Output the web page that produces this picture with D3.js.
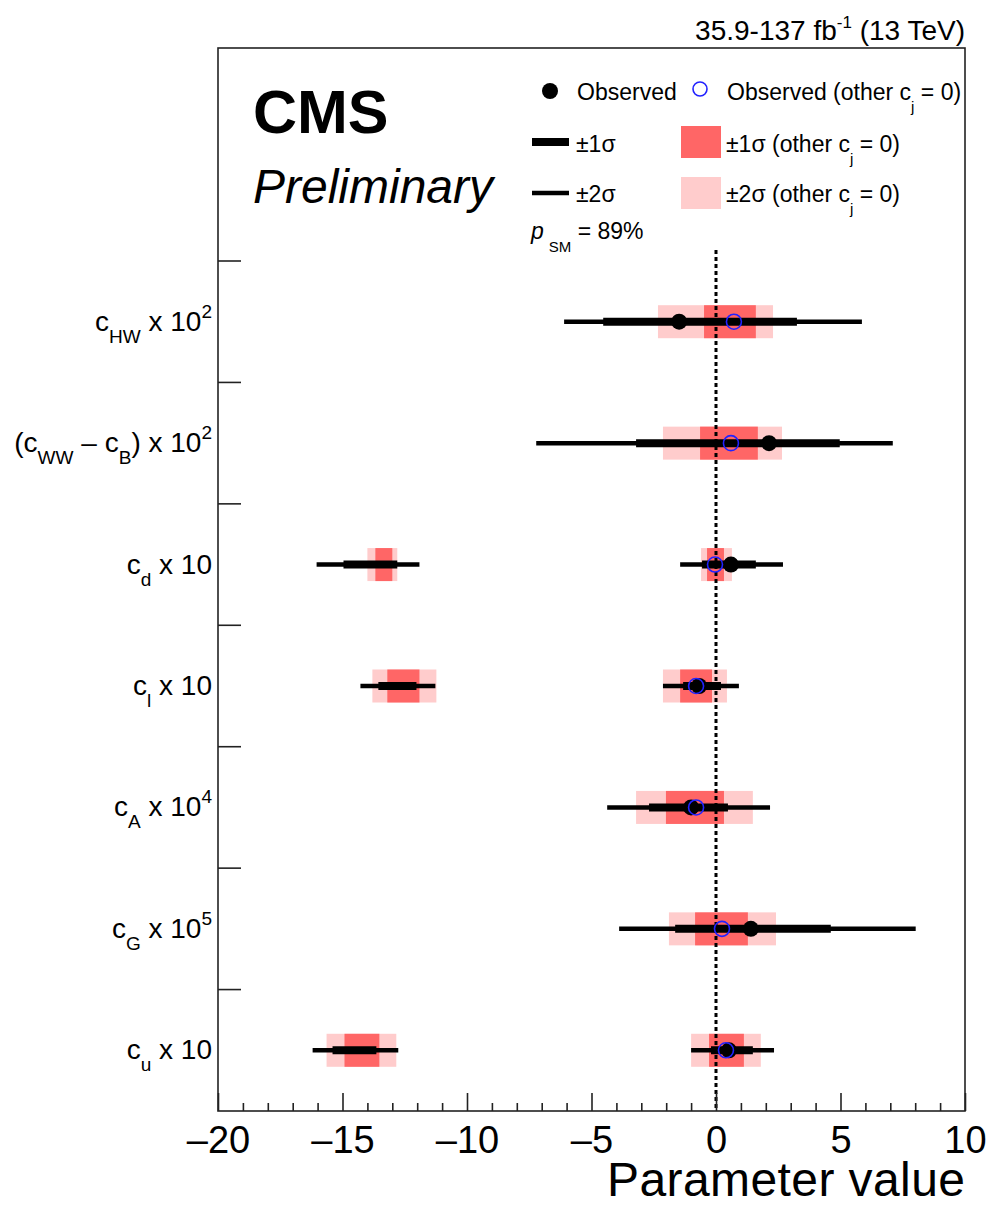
<!DOCTYPE html>
<html><head><meta charset="utf-8">
<script src="https://cdn.jsdelivr.net/npm/d3@7"></script>
<style>body{margin:0;background:#fff} svg{display:block} text{font-family:"Liberation Sans",Arial,Helvetica,sans-serif;fill:#000}</style>
</head><body><svg id="c" width="988" height="1205"></svg>
<script>
// ---------- data ----------
const categories = ["cHW", "cWW_cB", "cd", "cl", "cA", "cG", "cu"];
// axis labels: [text, kind] kind: "" normal, "sub", "sup"
const yLabels = [
  [["c",""],["HW","sub"],[" x 10",""],["2","sup"]],
  [["(c",""],["WW","sub"],[" \u2013 c",""],["B","sub"],[") x 10",""],["2","sup"]],
  [["c",""],["d","sub"],[" x 10",""]],
  [["c",""],["l","sub"],[" x 10",""]],
  [["c",""],["A","sub"],[" x 10",""],["4","sup"]],
  [["c",""],["G","sub"],[" x 10",""],["5","sup"]],
  [["c",""],["u","sub"],[" x 10",""]]
];
const observed      = [-1.48, 2.13, 0.60, -0.68, -1.00, 1.40, 0.52];
const observedOther = [ 0.72, 0.60, -0.04, -0.80, -0.80, 0.24, 0.40];
const sigma1 = [
  [[-4.53, 3.25]],
  [[-3.21, 4.97]],
  [[-14.96, -12.80], [-0.56, 1.60]],
  [[-13.56, -12.03], [-1.32, 0.20]],
  [[-2.69, 0.48]],
  [[-1.64, 4.61]],
  [[-15.40, -13.64], [-0.20, 1.48]]
];
const sigma2 = [
  [[-6.10, 5.86]],
  [[-7.22, 7.10]],
  [[-16.04, -11.91], [-1.44, 2.69]],
  [[-14.28, -11.27], [-2.13, 0.92]],
  [[-4.37, 2.17]],
  [[-3.89, 8.02]],
  [[-16.20, -12.76], [-1.00, 2.33]]
];
const sigma1Other = [
  [[-0.48, 1.60]],
  [[-0.64, 1.68]],
  [[-13.68, -13.00], [-0.36, 0.32]],
  [[-13.20, -11.91], [-1.44, -0.16]],
  [[-2.01, 0.32]],
  [[-0.84, 1.28]],
  [[-14.92, -13.52], [-0.28, 1.12]]
];
const sigma2Other = [
  [[-2.33, 2.29]],
  [[-2.13, 2.65]],
  [[-14.00, -12.80], [-0.60, 0.64]],
  [[-13.80, -11.23], [-2.13, 0.44]],
  [[-3.21, 1.48]],
  [[-1.89, 2.41]],
  [[-15.64, -12.84], [-1.00, 1.80]]
];
const xTicks = [-20, -15, -10, -5, 0, 5, 10];
const xMinorTicks = d3.range(-20, 11, 1);
const pSM = "89%";

// ---------- layout ----------
const svg = d3.select("#c");
const L = 218, R = 965, T = 48, B = 1111;
const x = d3.scaleLinear().domain([-20, 10]).range([L, R]);
const y = d3.scaleBand().domain(categories).range([261, B]);
const bw = y.bandwidth();
const cy = i => y(categories[i]) + bw / 2;
const RED = "#ff6666", PINK = "#ffcccc", BLUE = "#2222ff";
const boxH = 33;

function flat(arr) { const o = []; arr.forEach((segs, i) => segs.forEach(s => o.push({i, lo: s[0], hi: s[1]}))); return o; }

const g = svg.append("g");
g.selectAll("rect.b2").data(flat(sigma2Other)).join("rect")
  .attr("x", d => x(d.lo)).attr("width", d => x(d.hi) - x(d.lo))
  .attr("y", d => cy(d.i) - boxH / 2).attr("height", boxH).attr("fill", PINK);
g.selectAll("rect.b1").data(flat(sigma1Other)).join("rect")
  .attr("x", d => x(d.lo)).attr("width", d => x(d.hi) - x(d.lo))
  .attr("y", d => cy(d.i) - boxH / 2).attr("height", boxH).attr("fill", RED);

g.append("line").attr("x1", x(0)).attr("x2", x(0)).attr("y1", 250).attr("y2", B)
  .attr("stroke", "#000").attr("stroke-width", 3).attr("stroke-dasharray", "4,3");

g.selectAll("line.s2").data(flat(sigma2)).join("line")
  .attr("x1", d => x(d.lo)).attr("x2", d => x(d.hi))
  .attr("y1", d => cy(d.i)).attr("y2", d => cy(d.i))
  .attr("stroke", "#000").attr("stroke-width", 4.5);
g.selectAll("line.s1").data(flat(sigma1)).join("line")
  .attr("x1", d => x(d.lo)).attr("x2", d => x(d.hi))
  .attr("y1", d => cy(d.i)).attr("y2", d => cy(d.i))
  .attr("stroke", "#000").attr("stroke-width", 8);

g.selectAll("circle.obs").data(observed).join("circle")
  .attr("cx", d => x(d)).attr("cy", (d, i) => cy(i)).attr("r", 8).attr("fill", "#000");
g.selectAll("circle.oth").data(observedOther).join("circle")
  .attr("cx", d => x(d)).attr("cy", (d, i) => cy(i)).attr("r", 7.5).attr("fill", "none")
  .attr("stroke", BLUE).attr("stroke-width", 1.6);

svg.append("rect").attr("x", L).attr("y", T).attr("width", R - L).attr("height", B - T)
  .attr("fill", "none").attr("stroke", "#222").attr("stroke-width", 1.6);

const fmt = v => v < 0 ? "\u2013" + Math.abs(v) : String(v);
const ax = svg.append("g").attr("transform", `translate(0,${B})`)
  .call(d3.axisBottom(x).tickValues(xTicks).tickSize(-18).tickPadding(15).tickFormat(fmt));
ax.select(".domain").remove();
ax.selectAll(".tick line").attr("stroke", "#222").attr("stroke-width", 1.6);
ax.selectAll("text").style("font-size", "38px").style("font-family", '"Liberation Sans",Arial,sans-serif').attr("fill", "#000");
const axm = svg.append("g").attr("transform", `translate(0,${B})`)
  .call(d3.axisBottom(x).tickValues(xMinorTicks.filter(v => !xTicks.includes(v))).tickSize(-8).tickFormat(""));
axm.select(".domain").remove();
axm.selectAll(".tick line").attr("stroke", "#222").attr("stroke-width", 1.6);

svg.selectAll("line.yt").data(categories).join("line")
  .attr("x1", L).attr("x2", L + 23).attr("y1", d => y(d)).attr("y2", d => y(d))
  .attr("stroke", "#222").attr("stroke-width", 1.6);

function richText(sel, parts, base) {
  let cur = 0;
  parts.forEach(([t, k]) => {
    let target = k === "sub" ? 12 : k === "sup" ? -13 : 0;
    sel.append("tspan").attr("dy", target - cur).style("font-size", k ? (base * 0.68) + "px" : base + "px").text(t);
    cur = target;
  });
}
yLabels.forEach((parts, i) => {
  const t = svg.append("text").attr("x", 212).attr("y", cy(i) + 9).attr("text-anchor", "end").style("font-size", "28px");
  richText(t, parts, 28);
});

svg.append("text").attr("x", R).attr("y", 1196).attr("text-anchor", "end").style("font-size", "48px")
  .attr("textLength", 358).attr("lengthAdjust", "spacing").text("Parameter value");

const lt = svg.append("text").attr("x", R).attr("y", 40).attr("text-anchor", "end").style("font-size", "28px");
lt.append("tspan").text("35.9-137 fb");
lt.append("tspan").attr("dy", -12).style("font-size", "17px").text("-1");
lt.append("tspan").attr("dy", 12).text(" (13 TeV)");

svg.append("text").attr("x", 253).attr("y", 133).style("font-size", "61px").style("font-weight", "bold").text("CMS");
svg.append("text").attr("x", 253).attr("y", 203).style("font-size", "48px").style("font-style", "italic").text("Preliminary");

const lg = svg.append("g");
lg.append("circle").attr("cx", 550).attr("cy", 91).attr("r", 8).attr("fill", "#000");
lg.append("text").attr("x", 577).attr("y", 100).style("font-size", "23px").text("Observed");
lg.append("circle").attr("cx", 700).attr("cy", 89).attr("r", 7).attr("fill", "none").attr("stroke", BLUE).attr("stroke-width", 1.6);
function cjText(xx, yy, pre) {
  const t = lg.append("text").attr("x", xx).attr("y", yy).style("font-size", "23px");
  t.append("tspan").text(pre + "(other c");
  t.append("tspan").attr("dy", 12).style("font-size", "15px").text("j");
  t.append("tspan").attr("dy", -12).text(" = 0)");
}
cjText(727, 100, "Observed ");
lg.append("line").attr("x1", 532).attr("x2", 569).attr("y1", 142).attr("y2", 142).attr("stroke", "#000").attr("stroke-width", 8);
lg.append("text").attr("x", 576).attr("y", 152).style("font-size", "23px").text("\u00b11\u03c3");
lg.append("rect").attr("x", 681).attr("y", 126).attr("width", 40).attr("height", 32).attr("fill", RED);
cjText(726, 152, "\u00b11\u03c3 ");
lg.append("line").attr("x1", 532).attr("x2", 569).attr("y1", 193).attr("y2", 193).attr("stroke", "#000").attr("stroke-width", 4.5);
lg.append("text").attr("x", 576).attr("y", 202).style("font-size", "23px").text("\u00b12\u03c3");
lg.append("rect").attr("x", 681).attr("y", 177).attr("width", 40).attr("height", 32).attr("fill", PINK);
cjText(726, 202, "\u00b12\u03c3 ");
const ps = lg.append("text").attr("x", 531).attr("y", 239).style("font-size", "23px");
ps.append("tspan").style("font-style", "italic").text("p");
ps.append("tspan").attr("dy", 13).attr("dx", 5).style("font-size", "15px").text("SM");
ps.append("tspan").attr("dy", -13).text(" = " + pSM);
</script></body></html>
